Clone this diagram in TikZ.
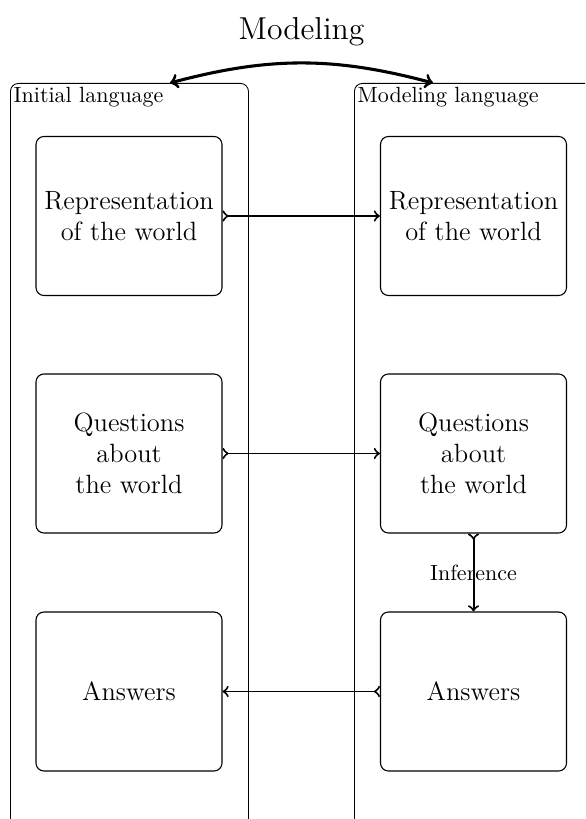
\documentclass[tikz,border=0pt]{standalone}
\usetikzlibrary{arrows}
\def\pxu{0.4545pt}
\begin{document}
\begin{tikzpicture}[x=0.4545pt,y=0.4545pt,
  container/.style={draw,line width=0.4pt,rounded corners=3.6pt,anchor=north west,inner sep=0pt},
  contlabel/.style={anchor=north west,inner sep=1.5pt,font=\normalsize},
  box/.style={draw,line width=0.5pt,rounded corners=3.6pt,minimum width=186*\pxu,minimum height=159*\pxu,align=center,font=\large,inner sep=0pt},
  conn/.style={>->,>=to,line width=0.9pt},
  bigarrow/.style={<->,>=to,line width=1.4pt}]
\useasboundingbox (0,0) rectangle (585,-819);
\clip (0,0) rectangle (585,-819);
% containers
\node[container,minimum width=238*\pxu,minimum height=760*\pxu] (lc) at (10,-83) {};
\node[container,minimum width=250*\pxu,minimum height=760*\pxu] (rc) at (354,-83) {};
\node[contlabel] (lcl) at (lc.north west) {Initial language};
\node[contlabel] (rcl) at (rc.north west) {Modeling language};
% boxes
\node[box] (r1) at (129,-216) {Representation\\of the world};
\node[box] (q1) at (129,-453.5) {Questions\\about\\the world};
\node[box] (a1) at (129,-691.5) {Answers};
\node[box] (r2) at (473.5,-216) {Representation\\of the world};
\node[box] (q2) at (473.5,-453.5) {Questions\\about\\the world};
\node[box] (a2) at (473.5,-691.5) {Answers};
% connectors
\draw[conn] (r1.east) -- (r2.west);
\draw[conn] (q1.east) -- (q2.west);
\draw[conn] (a2.west) -- (a1.east);
\draw[conn] (q2.south) -- node[midway,font=\normalsize] (inf) {Inference} (a2.north);
% modeling arc
\coordinate (ml) at (170,-83);
\coordinate (mr) at (433,-83);
\draw[bigarrow] (ml) to[bend left=15] (mr);
\node[font=\Large] (mod) at (301.5,-32) {Modeling};
\end{tikzpicture}
\end{document}
